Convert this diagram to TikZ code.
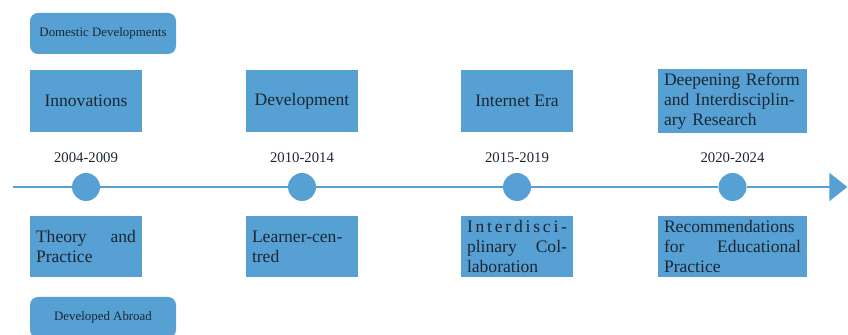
\documentclass[tikz,border=0pt]{standalone}
\usepackage{fontspec}
\setmainfont{Liberation Serif}
\usetikzlibrary{arrows.meta,positioning}

\definecolor{boxblue}{HTML}{56A0D3}
\definecolor{inkblue}{HTML}{1C2733}

\begin{document}
\begin{tikzpicture}[
    stage/.style={fill=boxblue, text=inkblue, minimum height=1.86cm, inner xsep=0.18cm,
        align=left, font=\fontsize{15}{17}\selectfont},
    region/.style={fill=boxblue, text=inkblue, rounded corners=0.24cm, minimum width=4.38cm,
        minimum height=1.23cm, font=\fontsize{11}{13}\selectfont},
    period/.style={text=inkblue, font=\fontsize{12.6}{15}\selectfont},
    stagedot/.style={circle, fill=boxblue, minimum size=0.84cm, inner sep=0pt},
    axis/.style={draw=boxblue, line width=0.06cm, -{Triangle[length=0.54cm,width=0.84cm]}}
  ]
    \useasboundingbox (0,0) rectangle (25.44,10.02);

    % Regions
    \node[region] (domestic) at (3.09,9.015) {Domestic Developments};
    \node[region] (abroad) at (3.09,0.495) {Developed Abroad};

    % Timeline
    \coordinate (start) at (0.39,4.41);
    \coordinate (end) at (25.42,4.41);
    \node[stagedot] (d1) at (2.58,4.41) {};
    \node[stagedot] (d2) at (9.06,4.41) {};
    \node[stagedot] (d3) at (15.51,4.41) {};
    \node[stagedot] (d4) at (21.975,4.41) {};
    \draw[axis] (start) -- (d1) -- (d2) -- (d3) -- (d4) -- (end);

    \node[period, above=0.17cm of d1] (y1) {2004-2009};
    \node[period, above=0.17cm of d2] (y2) {2010-2014};
    \node[period, above=0.17cm of d3] (y3) {2015-2019};
    \node[period, above=0.17cm of d4] (y4) {2020-2024};

    % Boxes above
    \node[stage, minimum width=3.36cm, align=center] (inno) at (2.58,6.99) {Innovations};
    \node[stage, minimum width=3.36cm, align=center] (dev) at (9.06,6.99) {Development};
    \node[stage, minimum width=3.36cm, align=center] (net) at (15.51,6.99) {Internet Era};
    \node[stage, text width=4.11cm] (reform) at (21.975,6.99)
        {Deepening Reform\\and Interdisciplin-\\ary Research};

    % Boxes below
    \node[stage, text width=3.0cm, minimum height=1.83cm] (theory) at (2.58,2.625)
        {Theory \hfill and\\Practice};
    \node[stage, text width=3.0cm, minimum height=1.83cm] (learner) at (9.06,2.625)
        {Learner-cen-\\tred};
    \node[stage, text width=3.0cm, minimum height=1.83cm] (collab) at (15.51,2.625)
        {\makebox[3.0cm][s]{I\hfill n\hfill t\hfill e\hfill r\hfill d\hfill i\hfill s\hfill c\hfill i\hfill -}\\
         plinary \hfill Col-\\laboration};
    \node[stage, text width=4.11cm, minimum height=1.83cm] (recom) at (21.975,2.625)
        {Recommendations\\for \hfill Educational\\Practice};
\end{tikzpicture}
\end{document}
